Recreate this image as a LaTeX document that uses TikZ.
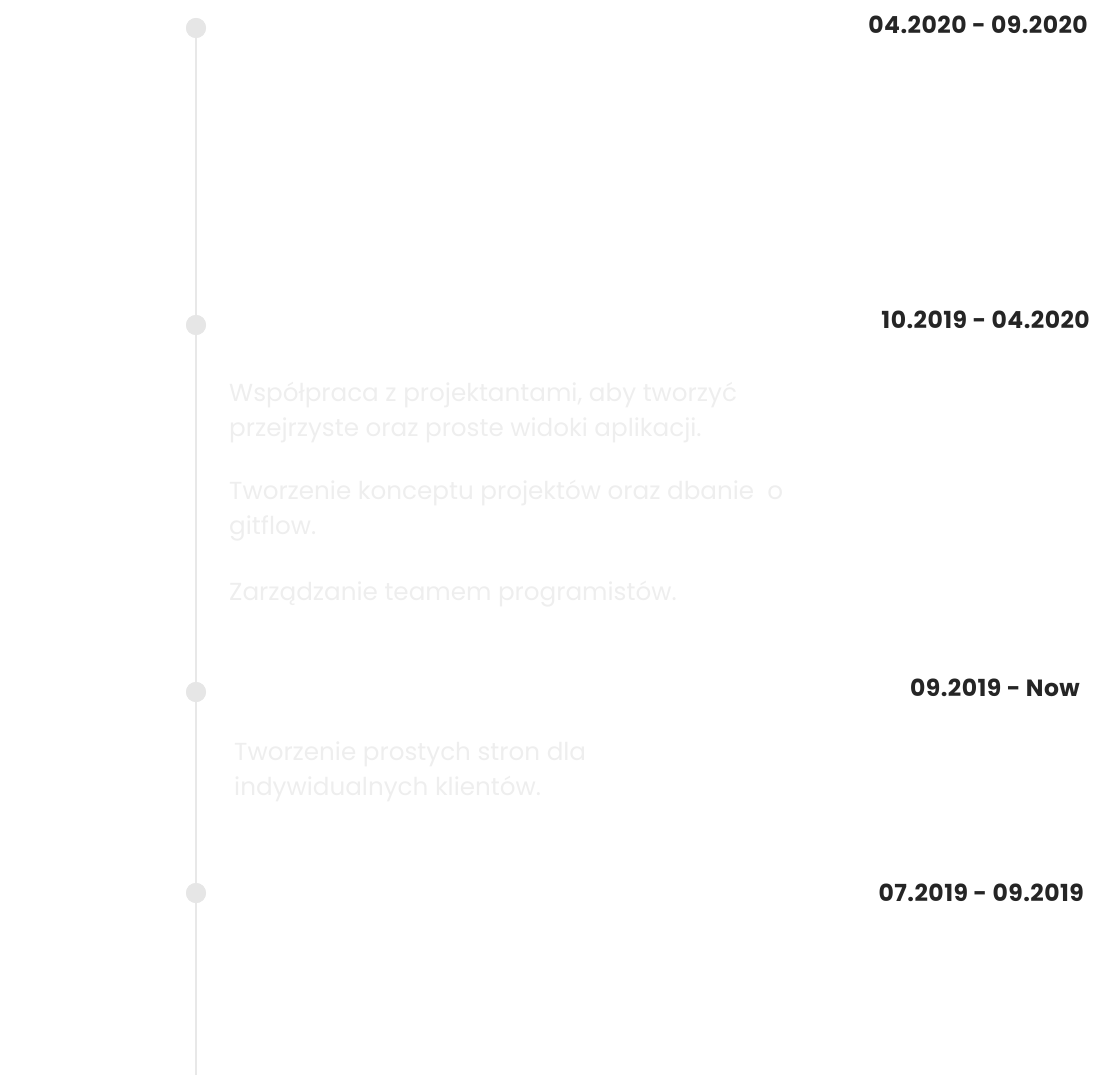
\documentclass[tikz,border=0pt]{standalone}
\usepackage{fontspec}
\setmainfont{Poppins}
\usetikzlibrary{positioning}

\definecolor{railgray}{HTML}{E8E8E8}
\definecolor{dotgray}{HTML}{E6E6E6}
\definecolor{faintgray}{HTML}{EEEEEE}
\definecolor{dategray}{HTML}{252525}

\begin{document}
\begin{tikzpicture}[
  x=1pt, y=-1pt,
  dot/.style  = {circle, fill=dotgray, minimum size=20pt, inner sep=0pt},
  rail/.style = {draw=railgray, line width=2.6pt},
  date/.style = {anchor=base east, inner sep=0pt, text=dategray,
                 font=\fontsize{23.5}{26}\selectfont\addfontfeatures{LetterSpace=2}\bfseries},
  desc/.style = {anchor=base west, inner sep=0pt, text=faintgray, align=left,
                 font=\fontsize{24.65}{35}\selectfont},
]
\useasboundingbox (0,0) rectangle (1103,1075);

% ── Rail ─────────────────────────────────────────────────────────────────────
\coordinate (railend) at (196,1075);
\node[dot] (d1) at (196,28)  {};
\node[dot] (d2) at (196,325) {};
\node[dot] (d3) at (196,692) {};
\node[dot] (d4) at (196,893) {};
\draw[rail] (d1.center) -- (railend);
\foreach \d in {d1,d2,d3,d4}
  \node[dot] at (\d) {};

% ── Dates ────────────────────────────────────────────────────────────────────
\node[date] (t1) at (1088,34)  {04.2020 - 09.2020};
\node[date] (t2) at (1090,328) {10.2019 - 04.2020};
\node[date] (t3) at (1080,696) {09.2019 - Now};
\node[date] (t4) at (1084,901) {07.2019 - 09.2019};

% ── Descriptions (anchored at the last line's baseline) ──────────────────────
\node[desc] (p1) at (229,436) {Współpraca z projektantami, aby tworzyć\\przejrzyste oraz proste widoki aplikacji.};
\node[desc] (p2) at (229,534) {Tworzenie konceptu projektów oraz dbanie\ \ o\\gitflow.};
\node[desc] (p3) at (229,600) {Zarządzanie teamem programistów.};
\node[desc] (p4) at (234,795) {Tworzenie prostych stron dla\\indywidualnych klientów.};

\end{tikzpicture}
\end{document}
